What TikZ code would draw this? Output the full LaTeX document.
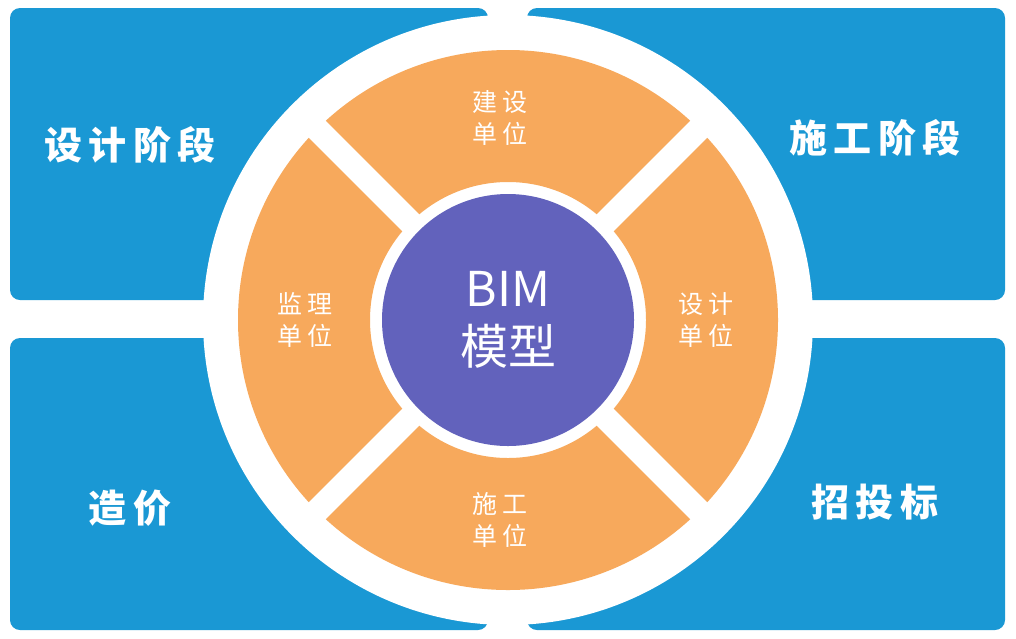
\documentclass[tikz,border=0pt]{standalone}
\usepackage{fontspec}
\setmainfont{Noto Sans CJK SC}
\definecolor{stageblue}{HTML}{1A98D4}
\definecolor{unitorange}{HTML}{F7A95C}
\definecolor{bimpurple}{HTML}{6262BC}
\begin{document}
\begin{tikzpicture}[x=1pt,y=-1pt]
    \tikzstyle{stage} = [fill=stageblue,rounded corners=10pt]
    \tikzstyle{stagetext} = [text=white,font=\fontsize{38}{44}\selectfont\bfseries]
    \tikzstyle{unittext} = [text=white,align=center,font=\fontsize{25}{32}\selectfont]

    \useasboundingbox (0,0) rectangle (1016,638);
    \fill[white] (0,0) rectangle (1016,638);

    %%% STAGE BOXES
    \fill[stage] (10,8) rectangle (488,300);
    \fill[stage] (527,8) rectangle (1005,300);
    \fill[stage] (10,338) rectangle (488,630);
    \fill[stage] (527,338) rectangle (1005,630);

    %%% RING
    \coordinate (C) at (508,320);
    \fill[white] (C) circle (305);
    \fill[unitorange,even odd rule] (C) circle (270) (C) circle (138);
    \foreach \a in {45,135,225,315}
        \draw[white,line width=24pt] (C) -- ++(\a:280);
    \fill[bimpurple] (C) circle (126);

    %%% TEXTS
    \node[stagetext] (design) at (130,145) {设\,计\,阶\,段};
    \node[stagetext] (build) at (875,138) {施\,工\,阶\,段};
    \node[stagetext] (cost) at (130,508) {造\,价};
    \node[stagetext] (bid) at (875,502) {招\,投\,标};

    \node[unittext] (owner) at (500,118) {建\,设\\单\,位};
    \node[unittext] (designer) at (706,320) {设\,计\\单\,位};
    \node[unittext] (builder) at (500,520) {施\,工\\单\,位};
    \node[unittext] (super) at (305,320) {监\,理\\单\,位};

    \node[text=white,align=center,font=\fontsize{48}{58}\selectfont] (bim) at (C) {BIM\\模型};
\end{tikzpicture}
\end{document}
